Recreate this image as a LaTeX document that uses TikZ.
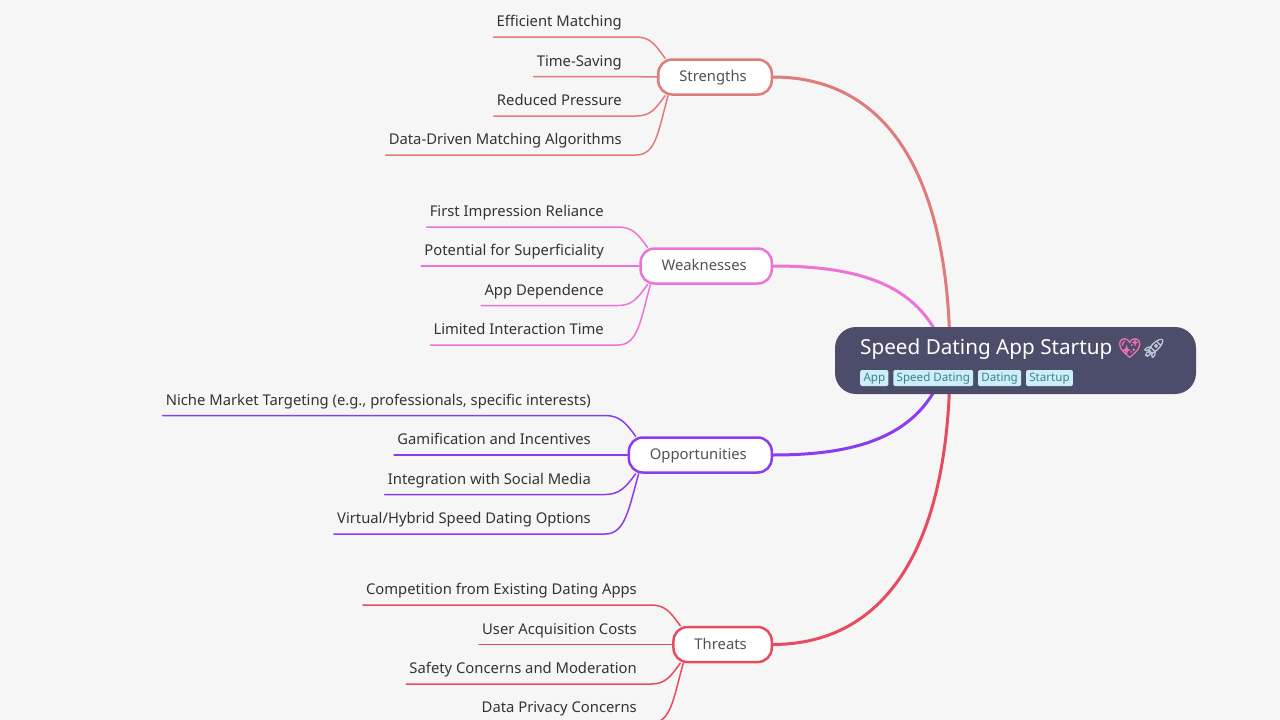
\documentclass[tikz,border=0pt]{standalone}
\usepackage{fontspec}
\setmainfont{Noto Sans}
\newfontfamily\emojifont[FakeBold=2.5]{Noto Emoji}
\usetikzlibrary{positioning,backgrounds}
\definecolor{pagebg}{HTML}{F6F6F6}
\definecolor{rootbg}{HTML}{4B4D6B}
\definecolor{tagbg}{HTML}{CDEFF7}
\definecolor{tagtxt}{HTML}{3C7F98}
\definecolor{strcol}{HTML}{E07B7B}
\definecolor{weakcol}{HTML}{EC74D6}
\definecolor{oppcol}{HTML}{8B3CEF}
\definecolor{thrcol}{HTML}{E84A5F}
\definecolor{heartcol}{HTML}{F06FB0}
\definecolor{rocketcol}{HTML}{B9C6D0}
\tikzset{
  leaf/.style={anchor=south east, inner xsep=3pt, inner ysep=0pt, minimum height=28pt, text height=11pt, text depth=3.5pt, text=black!80, font=\fontsize{14.8pt}{16pt}\selectfont},
  branch/.style={anchor=east, draw=#1, line width=2.5pt, fill=white, rounded corners=14pt, minimum height=35pt, inner xsep=21pt, inner ysep=0pt, text height=11pt, text depth=2pt, text=black!68, font=\fontsize{14.8pt}{16pt}\selectfont, execute at end node=\hspace{4pt}},
  tag/.style={fill=tagbg, text=tagtxt, rounded corners=2pt, inner xsep=3.3pt, inner ysep=0pt, minimum height=16pt, text height=8.5pt, text depth=2.5pt, font=\fontsize{11.6pt}{13pt}\selectfont},
  twig/.style={draw=#1, line width=1.5pt, line cap=round},
  limb/.style={draw=#1, line width=3pt},
}
\begin{document}
\begin{tikzpicture}[x=1pt,y=-1pt]
\useasboundingbox (0,0) rectangle (1280,720);
% root
\node[fill=rootbg, rounded corners=21pt, minimum width=361pt, minimum height=67pt, inner sep=0pt] (root) at (1015.5,360.5) {};
\node[anchor=west, inner sep=0pt, text=white, font=\fontsize{20.7pt}{24pt}\selectfont] (title) at (860,349) {Speed Dating App Startup {\emojifont\fontsize{19pt}{24pt}\selectfont\textcolor{heartcol}{💖}\textcolor{rocketcol}{🚀}}};
\node[tag, anchor=west] (tag1) at (860,378) {App};
\node[tag, right=4.5pt of tag1] (tag2) {Speed Dating};
\node[tag, right=4.5pt of tag2] (tag3) {Dating};
\node[tag, right=4.5pt of tag3] (tag4) {Startup};
% branches
\node[branch=strcol] (strengths) at (773,77) {Strengths};
\node[branch=weakcol] (weaknesses) at (773,266) {Weaknesses};
\node[branch=oppcol] (opportunities) at (773,455) {Opportunities};
\node[branch=thrcol] (threats) at (773,644.5) {Threats};
% strengths
\node[leaf] (s1) at (625,37) {Efficient Matching};
\node[leaf] (s2) at (625,76.5) {Time-Saving};
\node[leaf] (s3) at (625,116) {Reduced Pressure};
\node[leaf] (s4) at (625,155) {Data-Driven Matching Algorithms};
% weaknesses
\node[leaf] (w1) at (607,227) {First Impression Reliance};
\node[leaf] (w2) at (607,266) {Potential for Superficiality};
\node[leaf] (w3) at (607,305.5) {App Dependence};
\node[leaf] (w4) at (607,345) {Limited Interaction Time};
% opportunities
\node[leaf] (o1) at (594,415.5) {Niche Market Targeting (e.g., professionals, specific interests)};
\node[leaf] (o2) at (594,455) {Gamification and Incentives};
\node[leaf] (o3) at (594,494.5) {Integration with Social Media};
\node[leaf] (o4) at (594,534) {Virtual/Hybrid Speed Dating Options};
% threats
\node[leaf] (t1) at (640,605) {Competition from Existing Dating Apps};
\node[leaf] (t2) at (640,644.5) {User Acquisition Costs};
\node[leaf] (t3) at (640,684) {Safety Concerns and Moderation};
\node[leaf] (t4) at (640,723) {Data Privacy Concerns};
\begin{scope}[on background layer]
\fill[pagebg] (0,0) rectangle (1280,720);
\draw[limb=strcol] (strengths.east) .. controls (890,77) and (950,180) .. (950,360);
\draw[limb=weakcol] (weaknesses.east) .. controls (860,266) and (915,285) .. (940,340);
\draw[limb=oppcol] (opportunities.east) .. controls (860,455) and (915,435) .. (940,380);
\draw[limb=thrcol] (threats.east) .. controls (890,644) and (950,540) .. (950,360);
\draw[twig=strcol] (s1.south west) -- (s1.south east) -- ++(11,0) .. controls ++(14,0) and ++(-10,-14) .. ([xshift=8pt]strengths.north west);
\draw[twig=strcol] (s2.south west) -- (s2.south east) -- (strengths.west);
\draw[twig=strcol] (s3.south west) -- (s3.south east) -- ++(11,0) .. controls ++(14,0) and ++(-10,14) .. ([xshift=8pt]strengths.south west);
\draw[twig=strcol] (s4.south west) -- (s4.south east) -- ++(11,0) .. controls ++(20,0) and ++(-10,36) .. ([xshift=11pt]strengths.south west);
\draw[twig=weakcol] (w1.south west) -- (w1.south east) -- ++(11,0) .. controls ++(14,0) and ++(-10,-14) .. ([xshift=8pt]weaknesses.north west);
\draw[twig=weakcol] (w2.south west) -- (w2.south east) -- (weaknesses.west);
\draw[twig=weakcol] (w3.south west) -- (w3.south east) -- ++(11,0) .. controls ++(14,0) and ++(-10,14) .. ([xshift=8pt]weaknesses.south west);
\draw[twig=weakcol] (w4.south west) -- (w4.south east) -- ++(11,0) .. controls ++(20,0) and ++(-10,36) .. ([xshift=11pt]weaknesses.south west);
\draw[twig=oppcol] (o1.south west) -- (o1.south east) -- ++(11,0) .. controls ++(14,0) and ++(-10,-14) .. ([xshift=8pt]opportunities.north west);
\draw[twig=oppcol] (o2.south west) -- (o2.south east) -- (opportunities.west);
\draw[twig=oppcol] (o3.south west) -- (o3.south east) -- ++(11,0) .. controls ++(14,0) and ++(-10,14) .. ([xshift=8pt]opportunities.south west);
\draw[twig=oppcol] (o4.south west) -- (o4.south east) -- ++(11,0) .. controls ++(20,0) and ++(-10,36) .. ([xshift=11pt]opportunities.south west);
\draw[twig=thrcol] (t1.south west) -- (t1.south east) -- ++(11,0) .. controls ++(14,0) and ++(-10,-14) .. ([xshift=8pt]threats.north west);
\draw[twig=thrcol] (t2.south west) -- (t2.south east) -- (threats.west);
\draw[twig=thrcol] (t3.south west) -- (t3.south east) -- ++(11,0) .. controls ++(14,0) and ++(-10,14) .. ([xshift=8pt]threats.south west);
\draw[twig=thrcol] (t4.south west) -- (t4.south east) -- ++(11,0) .. controls ++(20,0) and ++(-10,36) .. ([xshift=11pt]threats.south west);
\end{scope}
\end{tikzpicture}
\end{document}
